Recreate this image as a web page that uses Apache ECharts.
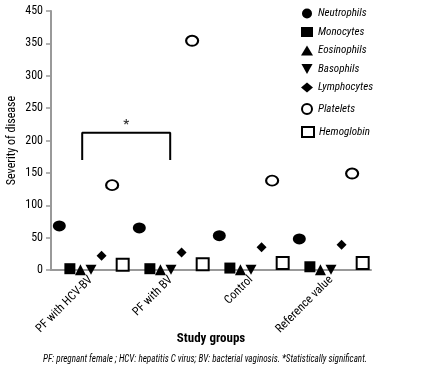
<!DOCTYPE html>
<html><head><meta charset="utf-8">
<script src="https://cdn.jsdelivr.net/npm/echarts@6/dist/echarts.min.js"></script>
<style>html,body{margin:0;padding:0;background:#fff}#c{width:444px;height:370px}</style>
</head><body><div id="c"></div>
<script>
const categories = ['PF with HCV-BV', 'PF with BV', 'Control', 'Reference value'];
const neutrophils = [68, 65, 53, 48];
const monocytes = [2, 2, 3, 5];
const eosinophils = [0.5, 0.5, 0.5, 0.5];
const basophils = [0.5, 0.5, 0.5, 0.5];
const lymphocytes = [22, 27, 35, 39];
const platelets = [131, 354, 138, 149];
const hemoglobin = [8, 9, 11, 11];
const yTicks = [0, 50, 100, 150, 200, 250, 300, 350, 450];
const bracketX = [-0.11, 0.99];
const bracketY = [170, 212];

const FONT = '"Roboto Condensed","DejaVu Sans Condensed",sans-serif';
const chart = echarts.init(document.getElementById('c'));
const DOWN_TRI = 'path://M0,0 L10,0 L5,9 Z';

const seriesDefs = [
  {name: 'Neutrophils', data: neutrophils, symbol: 'circle', size: [13, 11], fill: '#000', border: 0},
  {name: 'Monocytes', data: monocytes, symbol: 'rect', size: 11, fill: '#000', border: 0},
  {name: 'Eosinophils', data: eosinophils, symbol: 'triangle', size: 11, fill: '#000', border: 0},
  {name: 'Basophils', data: basophils, symbol: DOWN_TRI, size: [11, 10], fill: '#000', border: 0},
  {name: 'Lymphocytes', data: lymphocytes, symbol: 'diamond', size: 10, fill: '#000', border: 0},
  {name: 'Platelets', data: platelets, symbol: 'circle', size: [12, 10], fill: '#fff', border: 2},
  {name: 'Hemoglobin', data: hemoglobin, symbol: 'rect', size: 12, fill: '#fff', border: 2}
];
const step = 0.132;
const series = seriesDefs.map((d, k) => ({
  name: d.name, type: 'scatter', xAxisIndex: 1,
  symbol: d.symbol, symbolSize: d.size,
  itemStyle: {color: d.fill, borderColor: '#000', borderWidth: d.border, opacity: 1},
  data: d.data.map((v, i) => [i + (k - 3) * step, v]),
  z: 3
}));
series.push({
  type: 'line', xAxisIndex: 1, symbol: 'none', silent: true,
  lineStyle: {color: '#000', width: 2},
  data: [[bracketX[0], bracketY[0]], [bracketX[0], bracketY[1]], [bracketX[1], bracketY[1]], [bracketX[1], bracketY[0]]]
});
series.push({
  type: 'scatter', xAxisIndex: 1, symbolSize: 0, silent: true,
  data: [[(bracketX[0] + bracketX[1]) / 2, bracketY[1]]],
  label: {show: true, formatter: '*', position: 'top', distance: 1, color: '#000', fontSize: 13, fontFamily: FONT, fontWeight: 'bold'}
});

const legendText = {fontFamily: FONT, fontStyle: 'italic', fontSize: 11, color: '#000'};
const legendBase = {orient: 'vertical', left: 296, itemWidth: 12, itemHeight: 10, itemGap: 7.5, textStyle: legendText};

chart.setOption({
  animation: false,
  grid: {left: 51, right: 73, top: 11, bottom: 100, outerBoundsMode: 'none', containLabel: false},
  legend: [
    Object.assign({}, legendBase, {top: 3, data: ['Neutrophils', 'Monocytes', 'Eosinophils', 'Basophils', 'Lymphocytes']}),
    Object.assign({}, legendBase, {top: 98, data: ['Platelets']}),
    Object.assign({}, legendBase, {top: 121, data: ['Hemoglobin']})
  ],
  xAxis: [
    {type: 'category', data: categories, boundaryGap: true,
     axisLine: {onZero: false, lineStyle: {color: '#999', width: 2}}, axisTick: {show: false},
     axisLabel: {rotate: 45, margin: 8, color: '#000', fontFamily: FONT, fontSize: 12, interval: 0},
     name: 'Study groups', nameLocation: 'middle', nameGap: 62, nameMoveOverlap: false,
     nameTextStyle: {fontFamily: FONT, fontSize: 13, fontWeight: 'bold', color: '#000'}},
    {type: 'value', min: -0.5, max: 3.5, show: false}
  ],
  yAxis: {
    type: 'value', min: 0, max: 400, interval: 50,
    axisLine: {show: true, onZero: false, lineStyle: {color: '#999', width: 2}},
    axisTick: {show: true, length: 5, lineStyle: {color: '#999', width: 1.5}},
    splitLine: {show: false},
    axisLabel: {color: '#000', fontFamily: FONT, fontSize: 12, margin: 8,
      formatter: v => String(yTicks[Math.round(v / 50)])},
    name: 'Severity of disease', nameLocation: 'middle', nameGap: 33, nameMoveOverlap: false,
    nameTextStyle: {fontFamily: FONT, fontSize: 12, color: '#000'}
  },
  graphic: [{
    type: 'text', x: 43, y: 354, scaleX: 0.908,
    style: {text: 'PF: pregnant female ; HCV: hepatitis C virus; BV: bacterial vaginosis. *Statistically significant.',
      fontFamily: FONT, fontStyle: 'italic', fontSize: 10, fill: '#000'}
  }],
  series: series
});
</script></body></html>
